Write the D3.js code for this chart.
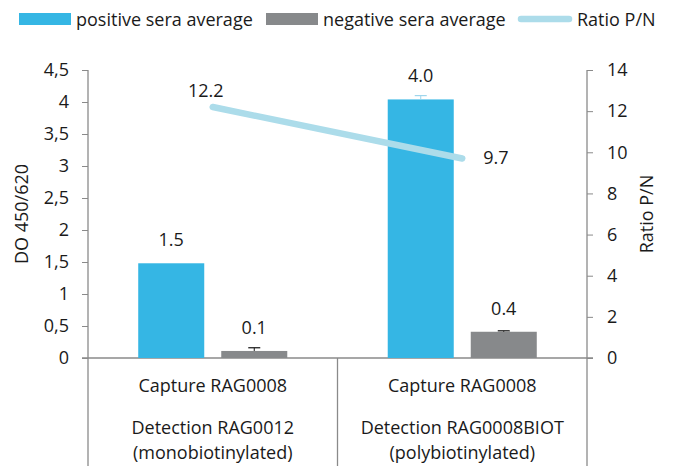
<!DOCTYPE html>
<html><head><meta charset="utf-8">
<script src="https://cdn.jsdelivr.net/npm/d3@7"></script>
<style>body{margin:0;background:#fff}svg{display:block}text{font-family:"Open Sans",sans-serif;fill:#1a1a1a}</style>
</head><body><svg id="c" width="675" height="466"></svg>
<script>
const categories = ["Capture RAG0008|Detection RAG0012|(monobiotinylated)", "Capture RAG0008|Detection RAG0008BIOT|(polybiotinylated)"];
const seriesNames = ["positive sera average", "negative sera average", "Ratio P/N"];
const positive = [1.48, 4.04];
const positiveErr = [0, 0.06];
const negative = [0.11, 0.41];
const negativeErr = [0.05, 0.015];
const ratio = [12.2, 9.7];
const leftTicks = [0, 0.5, 1, 1.5, 2, 2.5, 3, 3.5, 4, 4.5];
const rightTicks = [0, 2, 4, 6, 8, 10, 12, 14];
const leftTitle = "DO 450/620";
const rightTitle = "Ratio P/N";

const FS = "18px";
const C = {pos:"#35b6e4", neg:"#87898b", line:"#acdcea", axis:"#8a8a8a"};
const svg = d3.select("#c");
const L = 88, R = 587, T = 70, B = 358;
const x = d3.scaleBand().domain(d3.range(categories.length)).range([L, R]);
const xs = d3.scaleBand().domain([0,1]).range([0, x.bandwidth()]).paddingInner(17/83).paddingOuter(0.605);
const y = d3.scaleLinear().domain([0, 4.5]).range([B, T]);
const y2 = d3.scaleLinear().domain([0, 14]).range([B, T]);
const loc = d3.formatLocale({decimal:",", thousands:".", grouping:[3], currency:["","€"]});
const fl = loc.format("~f");
const f1 = d3.format(".1f");

// axes
const ga = svg.append("g").attr("transform", `translate(${L},0)`)
  .call(d3.axisLeft(y).tickValues(leftTicks).tickFormat(fl).tickSize(6).tickPadding(13));
const gb = svg.append("g").attr("transform", `translate(${R},0)`)
  .call(d3.axisRight(y2).tickValues(rightTicks).tickSize(6).tickPadding(14));
[ga, gb].forEach(g => {
  g.select(".domain").remove();
  g.selectAll(".tick line").attr("stroke", C.axis);
  g.selectAll("text").style("font-size", FS).attr("fill", "#1a1a1a").style("font-family", "'Open Sans',sans-serif");
});
// vertical axis lines & category dividers
const divs = [L, ...categories.map((c,i)=>x(i)+x.bandwidth())];
svg.selectAll("line.div").data(divs).join("line").attr("class","div")
  .attr("x1", d=>d).attr("x2", d=>d).attr("y1", (d,i)=> i===0||i===divs.length-1 ? T : B).attr("y2", 466)
  .attr("stroke", C.axis).attr("stroke-width", 1.3);
svg.append("line").attr("x1", L-6).attr("x2", R+6).attr("y1", B).attr("y2", B).attr("stroke", C.axis).attr("stroke-width", 1.3);

// bars
const barData = [];
categories.forEach((c,i)=>{
  barData.push({i, s:0, v:positive[i], e:positiveErr[i], col:C.pos, ec:"#9fd6ec"});
  barData.push({i, s:1, v:negative[i], e:negativeErr[i], col:C.neg, ec:"#111"});
});
svg.selectAll("rect.bar").data(barData).join("rect").attr("class","bar")
  .attr("x", d=>x(d.i)+xs(d.s)).attr("width", xs.bandwidth())
  .attr("y", d=>y(d.v)).attr("height", d=>y(0)-y(d.v)).attr("fill", d=>d.col);
const eb = svg.selectAll("g.err").data(barData.filter(d=>d.e>0)).join("g").attr("class","err")
  .attr("transform", d=>`translate(${x(d.i)+xs(d.s)+xs.bandwidth()/2},0)`);
eb.append("line").attr("y1", d=>y(d.v)).attr("y2", d=>y(d.v+d.e)).attr("stroke", d=>d.ec).attr("stroke-width",1);
eb.append("line").attr("x1",-6).attr("x2",6).attr("y1", d=>y(d.v+d.e)).attr("y2", d=>y(d.v+d.e)).attr("stroke", d=>d.ec).attr("stroke-width",1.2);
svg.selectAll("text.bl").data(barData).join("text").attr("class","bl")
  .attr("x", d=>x(d.i)+xs(d.s)+xs.bandwidth()/2).attr("y", d=>y(d.v)-17)
  .attr("text-anchor","middle").style("font-size",FS).text(d=>f1(d.v));

// ratio line
const cx = i => x(i)+x.bandwidth()/2;
svg.append("path").datum(ratio).attr("fill","none").attr("stroke", C.line).attr("stroke-width",6.5)
  .attr("stroke-linecap","round")
  .attr("d", d3.line().x((d,i)=>cx(i)).y(d=>y2(d)));
svg.append("text").attr("x", cx(0)-7).attr("y", y2(ratio[0])-10).attr("text-anchor","middle").style("font-size",FS).text(f1(ratio[0]));
svg.append("text").attr("x", cx(1)+21).attr("y", y2(ratio[1])+6).attr("text-anchor","start").style("font-size",FS).text(f1(ratio[1]));

// category labels
const lineY = [392, 434, 459];
categories.forEach((c,i)=>{
  c.split("|").forEach((t,j)=>{
    svg.append("text").attr("x", cx(i)).attr("y", lineY[j]).attr("text-anchor","middle").style("font-size",FS).text(t);
  });
});

// axis titles
svg.append("text").attr("transform", `translate(28,${(T+B)/2}) rotate(-90)`).attr("text-anchor","middle").style("font-size",FS).text(leftTitle);
svg.append("text").attr("transform", `translate(653,${(T+B)/2}) rotate(-90)`).attr("text-anchor","middle").style("font-size",FS).text(rightTitle);

// legend
const lg = svg.append("g");
lg.append("rect").attr("x",19).attr("y",13).attr("width",52).attr("height",12).attr("fill",C.pos);
lg.append("text").attr("x",76).attr("y",26).style("font-size",FS).text(seriesNames[0]);
lg.append("rect").attr("x",266).attr("y",13).attr("width",52).attr("height",12).attr("fill",C.neg);
lg.append("text").attr("x",323).attr("y",26).style("font-size",FS).text(seriesNames[1]);
lg.append("line").attr("x1",521).attr("x2",569).attr("y1",19).attr("y2",19).attr("stroke",C.line).attr("stroke-width",6.5).attr("stroke-linecap","round");
lg.append("text").attr("x",577).attr("y",26).style("font-size",FS).text(seriesNames[2]);
</script></body></html>
